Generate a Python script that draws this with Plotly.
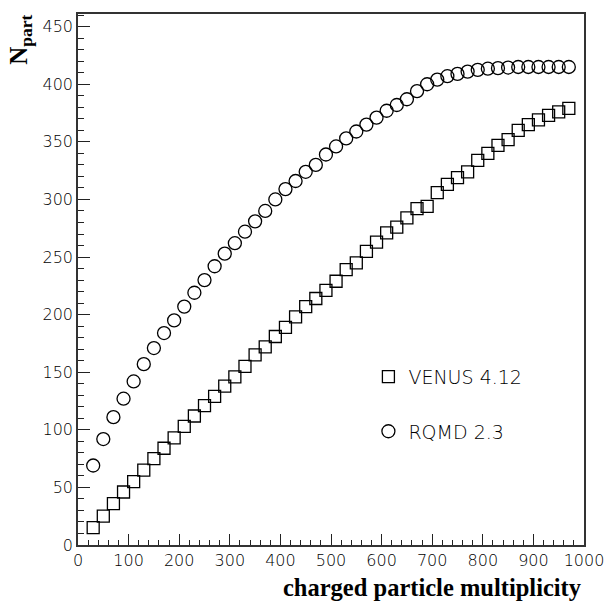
import plotly.graph_objects as go

multiplicity = [30, 50, 70, 90, 110, 130, 150, 170, 190, 210, 230, 250, 270, 290, 310, 330,
                350, 370, 390, 410, 430, 450, 470, 490, 510, 530, 550, 570, 590, 610, 630, 650,
                670, 690, 710, 730, 750, 770, 790, 810, 830, 850, 870, 890, 910, 930, 950, 970]

venus_npart = [15, 25, 36, 46, 55, 65, 75, 84, 93, 103, 112, 121, 129, 138, 146, 155,
               165, 172, 181, 189, 198, 207, 214, 221, 229, 239, 245, 255, 263, 271, 276, 284,
               292, 294, 306, 313, 319, 324, 334, 340, 347, 352, 360, 365, 369, 373, 376, 379]

rqmd_npart = [69, 92, 111, 127, 142, 157, 171, 184, 195, 207, 219, 230, 242, 253, 262, 272,
              281, 290, 300, 309, 316, 324, 330, 339, 346, 353, 359, 365, 371, 377, 382, 387,
              394, 400, 404, 407, 409, 411, 412.5, 413.5, 414, 414.5, 415, 415, 415, 415, 415, 415]

series_names = ["VENUS 4.12", "RQMD 2.3"]
x_ticks = [0, 100, 200, 300, 400, 500, 600, 700, 800, 900, 1000]
y_ticks = [0, 50, 100, 150, 200, 250, 300, 350, 400, 450]

fig = go.Figure()
fig.add_trace(go.Scatter(
    x=multiplicity, y=venus_npart, mode="markers", name=series_names[0],
    legendgroup="a",
    marker=dict(symbol="square-open", size=12, color="black", line=dict(width=1.3, color="black")),
))
fig.add_trace(go.Scatter(
    x=multiplicity, y=rqmd_npart, mode="markers", name=series_names[1],
    legendgroup="b",
    marker=dict(symbol="circle-open", size=13, color="black", line=dict(width=1.3, color="black")),
))

tickfont = dict(family="DejaVu Sans", size=16, color="black", weight=200)

fig.update_layout(
    width=616, height=603,
    margin=dict(l=78, r=24, t=12, b=58),
    paper_bgcolor="white", plot_bgcolor="white",
    showlegend=True,
    legend=dict(
        x=(373 - 78) / 514, y=(545 - 357) / 533, xanchor="left", yanchor="top",
        font=dict(family="DejaVu Sans", size=19, color="black", weight=200),
        tracegroupgap=27, bgcolor="rgba(0,0,0,0)", borderwidth=0,
    ),
    xaxis=dict(
        range=[0, 1000], tickvals=x_ticks, ticktext=[str(v) for v in x_ticks],
        ticks="inside", ticklen=11, tickwidth=1.3, tickcolor="#222",
        minor=dict(dtick=20, ticks="inside", ticklen=5, tickwidth=1.3, tickcolor="#222"),
        showline=True, linecolor="#333", linewidth=1.5, mirror=True,
        showgrid=False, zeroline=False, tickfont=tickfont,
    ),
    yaxis=dict(
        range=[0, 461], tickvals=y_ticks, ticktext=[str(v) for v in y_ticks],
        ticks="inside", ticklen=12, tickwidth=1.3, tickcolor="#222",
        minor=dict(dtick=10, ticks="inside", ticklen=6, tickwidth=1.3, tickcolor="#222"),
        showline=True, linecolor="#333", linewidth=1.5, mirror=True,
        showgrid=False, zeroline=False, tickfont=tickfont,
    ),
    annotations=[
        dict(text="<b>N<sub>part</sub></b>", xref="paper", yref="paper",
             x=(20 - 78) / 514, y=(545 - 38) / 533, xanchor="center", yanchor="middle",
             textangle=-90, showarrow=False,
             font=dict(family="Liberation Serif", size=25, color="black")),
        dict(text="<b>charged particle multiplicity</b>", xref="paper", yref="paper",
             x=(592 - 78) / 514, y=(545 - 588) / 533, xanchor="right", yanchor="middle",
             showarrow=False,
             font=dict(family="Liberation Serif", size=24.5, color="black")),
    ],
)

fig.write_html("out.html")
